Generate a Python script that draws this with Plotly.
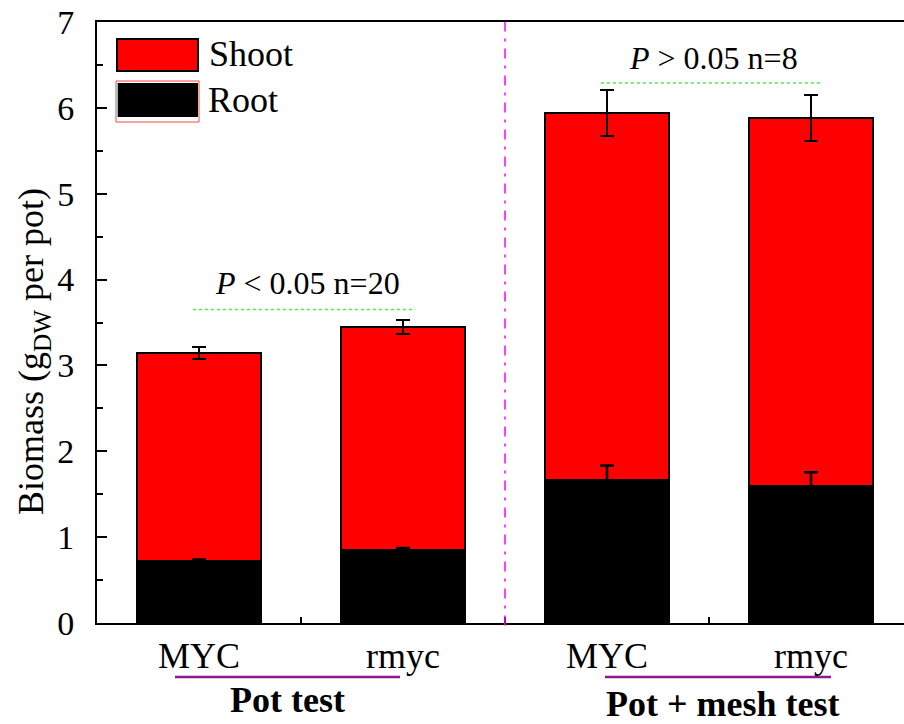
import plotly.graph_objects as go

# ---------------- data ----------------
categories = ["MYC", "rmyc", "MYC", "rmyc"]
positions = [1, 2, 3, 4]
root = [0.72, 0.85, 1.67, 1.59]
root_err = [0.02, 0.025, 0.165, 0.165]
shoot = [2.43, 2.60, 4.27, 4.29]
total_err = [0.07, 0.08, 0.27, 0.27]
y_ticks = [0, 1, 2, 3, 4, 5, 6, 7]
group_labels = ["Pot test", "Pot + mesh test"]
stat_labels = ["<i>P</i> < 0.05 n=20", "<i>P</i> > 0.05 n=8"]
legend_labels = ["Shoot", "Root"]
y_title = "Biomass (g<sub>DW</sub> per pot)"

FONT = "Liberation Serif"

# pixel -> paper helpers (plot area: x 97..904, y 22..623)
L, R, T, B = 97, 904, 22, 623
def xp(px):
    return (px - L) / (R - L)
def yp(py):
    return (B - py) / (B - T)

fig = go.Figure()
fig.add_bar(x=positions, y=root, width=0.61,
            marker=dict(color="black", line=dict(color="black", width=2)),
            showlegend=False, name=legend_labels[1])
fig.add_bar(x=positions, y=shoot, width=0.61,
            marker=dict(color="#FF0000", line=dict(color="black", width=2)),
            error_y=dict(type="data", array=total_err, color="black", thickness=2, width=7),
            showlegend=False, name=legend_labels[0])
fig.add_scatter(x=positions, y=root, mode="markers",
                marker=dict(opacity=0, size=1),
                error_y=dict(type="data", array=root_err, color="black", thickness=2.5, width=7),
                showlegend=False, hoverinfo="skip")

shapes = []
# vertical separator
shapes.append(dict(type="line", xref="x", yref="paper", x0=2.5, x1=2.5, y0=-0.004, y1=1,
                   line=dict(color="#FF00FF", width=1.5, dash="10px,7px,3px,7px")))
# green dotted significance lines
shapes.append(dict(type="line", xref="x", yref="y", x0=0.97, x1=2.06, y0=3.65, y1=3.65,
                   line=dict(color="#44EE44", width=1.5, dash="3px,3px")))
shapes.append(dict(type="line", xref="x", yref="y", x0=2.97, x1=4.05, y0=6.29, y1=6.29,
                   line=dict(color="#44EE44", width=1.5, dash="3px,3px")))
# purple group underlines
shapes.append(dict(type="line", xref="paper", yref="paper", x0=xp(175), x1=xp(400), y0=yp(677), y1=yp(677),
                   line=dict(color="#8B1A8B", width=2.5)))
shapes.append(dict(type="line", xref="paper", yref="paper", x0=xp(605), x1=xp(831), y0=yp(677), y1=yp(677),
                   line=dict(color="#8B1A8B", width=2.5)))
# legend swatches
shapes.append(dict(type="rect", xref="paper", yref="paper", x0=xp(117), x1=xp(198), y0=yp(71), y1=yp(39),
                   fillcolor="#FF0000", line=dict(color="black", width=2)))
shapes.append(dict(type="rect", xref="paper", yref="paper", x0=xp(116), x1=xp(199), y0=yp(122), y1=yp(81),
                   fillcolor="white", line=dict(color="#FF4444", width=1)))
shapes.append(dict(type="rect", xref="paper", yref="paper", x0=xp(117), x1=xp(198), y0=yp(117), y1=yp(83),
                   fillcolor="black", line=dict(color="black", width=0)))
shapes.append(dict(type="line", xref="paper", yref="paper", x0=xp(117.5), x1=xp(117.5), y0=yp(117), y1=yp(83),
                   line=dict(color="#33DDDD", width=1)))

annotations = []
annotations.append(dict(text=stat_labels[0], x=1.53, y=3.96, xref="x", yref="y", showarrow=False,
                        font=dict(family=FONT, size=32, color="black"), xanchor="center", yanchor="middle"))
annotations.append(dict(text=stat_labels[1], x=3.52, y=6.58, xref="x", yref="y", showarrow=False,
                        font=dict(family=FONT, size=32, color="black"), xanchor="center", yanchor="middle"))
annotations.append(dict(text="<b>%s</b>" % group_labels[0], x=xp(287), y=yp(700), xref="paper", yref="paper",
                        showarrow=False, font=dict(family=FONT, size=36, color="black"),
                        xanchor="center", yanchor="middle"))
annotations.append(dict(text="<b>%s</b>" % group_labels[1], x=xp(722), y=yp(704), xref="paper", yref="paper",
                        showarrow=False, font=dict(family=FONT, size=36, color="black"),
                        xanchor="center", yanchor="middle"))
annotations.append(dict(text=legend_labels[0], x=xp(207), y=yp(54), xref="paper", yref="paper",
                        showarrow=False, font=dict(family=FONT, size=36, color="black"),
                        xanchor="left", yanchor="middle"))
annotations.append(dict(text=legend_labels[1], x=xp(206), y=yp(100), xref="paper", yref="paper",
                        showarrow=False, font=dict(family=FONT, size=36, color="black"),
                        xanchor="left", yanchor="middle"))
# y-axis title
annotations.append(dict(text=y_title, x=xp(33), y=yp(352), xref="paper", yref="paper",
                        showarrow=False, textangle=-90,
                        font=dict(family=FONT, size=36, color="black"),
                        xanchor="center", yanchor="middle"))

fig.update_layout(
    width=904, height=724,
    margin=dict(l=L, r=0, t=T, b=724 - B, pad=0),
    paper_bgcolor="white", plot_bgcolor="white",
    barmode="stack",
    font=dict(family=FONT, color="black"),
    shapes=shapes, annotations=annotations,
    showlegend=False,
)
fig.update_xaxes(
    range=[0.5, 0.5 + (R - L) / 204.0],
    tickmode="array", tickvals=positions, ticktext=categories,
    ticks="", showline=True, linewidth=2, linecolor="black", mirror=True,
    showgrid=False, zeroline=False,
    tickfont=dict(family=FONT, size=36, color="black"),
    ticklabelstandoff=0,
    minor=dict(tickmode="array", tickvals=[1.5, 2.5, 3.5], ticks="inside", ticklen=6,
               tickwidth=2, tickcolor="black", showgrid=False),
)
fig.update_yaxes(
    range=[0, 7], tickmode="array", tickvals=y_ticks,
    ticks="inside", ticklen=10, tickwidth=2, tickcolor="black",
    minor=dict(dtick=0.5, ticks="inside", ticklen=6, tickwidth=2, tickcolor="black", showgrid=False),
    showline=True, linewidth=2, linecolor="black", mirror=False,
    showgrid=False, zeroline=False,
    tickfont=dict(family=FONT, size=34, color="black"),
    ticklabelstandoff=14,
)

fig.write_html("out.html")
